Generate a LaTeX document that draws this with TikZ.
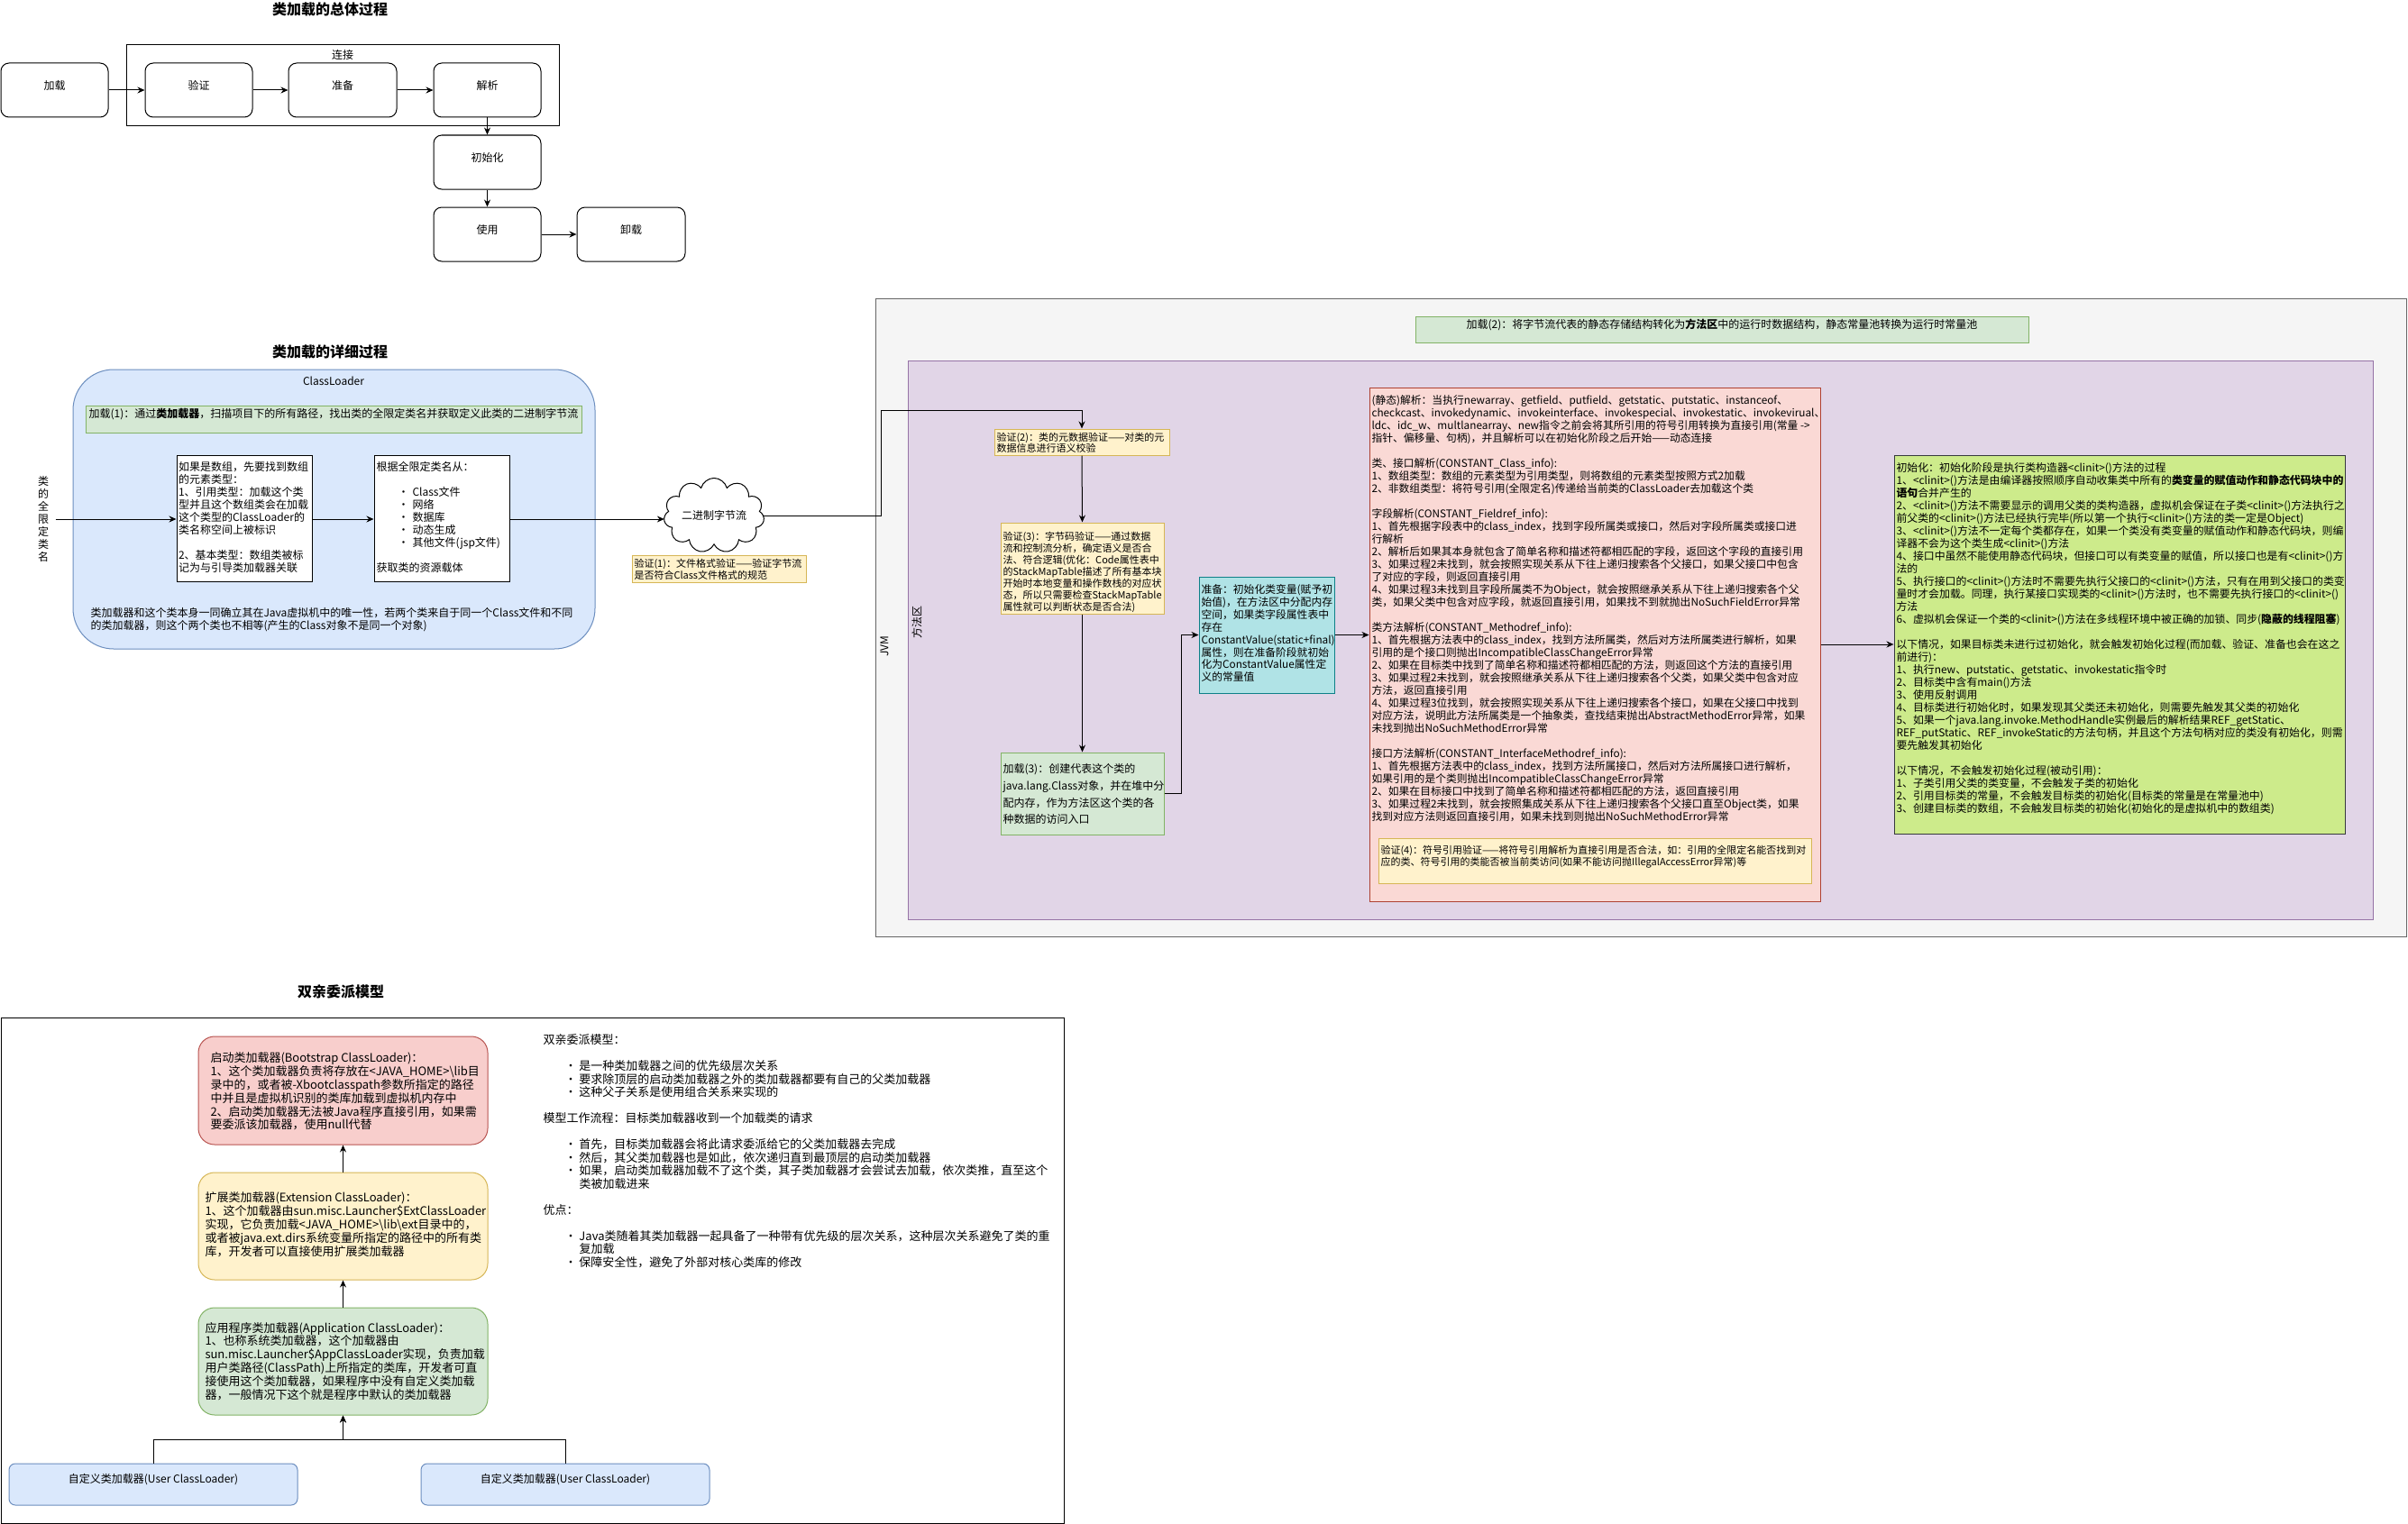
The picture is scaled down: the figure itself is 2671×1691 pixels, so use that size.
\documentclass[tikz,border=0pt]{standalone}
\usepackage{fontspec}
\setmainfont{Noto Sans CJK SC}
\usetikzlibrary{arrows.meta,shapes.symbols,fit}

\definecolor{clfill}{HTML}{DAE8FC}\definecolor{cldraw}{HTML}{6C8EBF}
\definecolor{gfill}{HTML}{D5E8D4}\definecolor{gdraw}{HTML}{82B366}
\definecolor{yfill}{HTML}{FFF2CC}\definecolor{ydraw}{HTML}{D6B656}
\definecolor{rfill}{HTML}{F8CECC}\definecolor{rdraw}{HTML}{B85450}
\definecolor{jvmfill}{HTML}{F5F5F5}\definecolor{jvmdraw}{HTML}{666666}
\definecolor{mafill}{HTML}{E1D5E7}\definecolor{madraw}{HTML}{9673A6}
\definecolor{pfill}{HTML}{FAD9D5}\definecolor{pdraw}{HTML}{AE4132}
\definecolor{cfill}{HTML}{B0E3E6}\definecolor{cdraw}{HTML}{0E8088}
\definecolor{lfill}{HTML}{CDEB8B}\definecolor{ldraw}{HTML}{36393D}

% bullet item and continuation indent for list-like text
\newcommand{\lstbullet}{\hspace*{24pt}\makebox[16pt][l]{•}}
\newcommand{\lstindent}{\hspace*{40pt}}

\tikzset{
  arr/.style={-{Stealth[length=8pt,width=7pt]}, line width=1pt},
  fitbox/.style={inner sep=0pt, line width=1pt},
  fs11/.style={font=\fontsize{11}{13}\selectfont},
  fs12/.style={font=\fontsize{12}{14}\selectfont},
  fs13/.style={font=\fontsize{13}{15}\selectfont},
  block/.style={inner sep=0pt, align=left, anchor=north west},
  heading/.style={font=\fontsize{16}{19}\selectfont\bfseries},
  stage/.style={fitbox, draw, rounded corners=9pt, fs12},
  note/.style={fitbox, draw=ydraw, fill=yfill},
  greenbox/.style={fitbox, draw=gdraw, fill=gfill},
  plainbox/.style={fitbox, draw, fill=white},
  loader/.style={fitbox, rounded corners=18pt},
  userbox/.style={fitbox, draw=cldraw, fill=clfill, rounded corners=7pt, fs12},
}

\begin{document}
\begin{tikzpicture}[x=1pt,y=-1pt,line width=1pt]
\useasboundingbox (0,0) rectangle (2671,1691);
\fill[white] (0,0) rectangle (2671,1691);

%% ---------------- overall process ----------------
\node[heading] (t1) at (366,10) {类加载的总体过程};
\node[fitbox, draw, fit={(140,50) (620,140)}] (link) {};
\node[fs12] (linklbl) at (380,61) {连接};
\node[stage, fit={(1,70) (120,130)}] (s1) {加载};
\node[stage, fit={(161,70) (280,130)}] (s2) {验证};
\node[stage, fit={(320,70) (440,130)}] (s3) {准备};
\node[stage, fit={(481,70) (600,130)}] (s4) {解析};
\node[stage, fit={(481,150) (600,210)}] (s5) {初始化};
\node[stage, fit={(481,230) (600,290)}] (s6) {使用};
\node[stage, fit={(640,230) (760,290)}] (s7) {卸载};
\draw[arr] (s1) -- (s2);
\draw[arr] (s2) -- (s3);
\draw[arr] (s3) -- (s4);
\draw[arr] (s4) -- (s5);
\draw[arr] (s5) -- (s6);
\draw[arr] (s6) -- (s7);

%% ---------------- detailed process: ClassLoader ----------------
\node[heading] (t2) at (366,390) {类加载的详细过程};
\node[fitbox, draw=cldraw, fill=clfill, rounded corners=45pt, fit={(81,410) (660,720)}] (cl) {};
\node[fs12] (cllbl) at (370,423) {ClassLoader};
\node[greenbox, fs12, fit={(95,450) (645,480)}] (load1) {加载(1)：通过\textbf{类加载器}，扫描项目下的所有路径，找出类的全限定类名并获取定义此类的二进制字节流};
\node[fs12, align=center, inner xsep=7pt, inner ysep=0pt] (fqn) at (48,576) {类\\的\\全\\限\\定\\类\\名};
\node[plainbox, fit={(196,505) (346,645)}] (arr1) {};
\node[block, fs12] (arr1t) at (197.5,512) {如果是数组，先要找到数组\\的元素类型：\\1、引用类型：加载这个类\\型并且这个数组类会在加载\\这个类型的ClassLoader的\\类名称空间上被标识\\[14pt]2、基本类型：数组类被标\\记为与引导类加载器关联};
\node[plainbox, fit={(415,505) (565,645)}] (src) {};
\node[block, fs12] (srct) at (417,512) {根据全限定类名从：\\[14pt]\lstbullet Class文件\\\lstbullet 网络\\\lstbullet 数据库\\\lstbullet 动态生成\\\lstbullet 其他文件(jsp文件)\\[14pt]获取类的资源载体};
\node[block, font=\fontsize{12}{13.5}\selectfont] (clnote) at (100,674) {类加载器和这个类本身一同确立其在Java虚拟机中的唯一性，若两个类来自于同一个Class文件和不同\\的类加载器，则这个两个类也不相等(产生的Class对象不是同一个对象)};
\node[cloud, cloud puffs=11, aspect=1.6, draw, fill=white, minimum width=109pt, minimum height=69pt, inner sep=0pt, fs12] (bytes) at (792,572) {二进制字节流};
\node[note, fit={(701,616) (894,646)}] (v1) {};
\node[block, fs11] (v1t) at (703,619.5) {验证(1)：文件格式验证——验证字节流\\是否符合Class文件格式的规范};
\draw[arr] (fqn.east) -- (arr1.west |- fqn.east);
\draw[arr] (arr1.east |- fqn.east) -- (src.west |- fqn.east);
\draw[arr] (src.east |- fqn.east) -- (bytes.west |- fqn.east);

%% ---------------- JVM ----------------
\node[fitbox, draw=jvmdraw, fill=jvmfill, fit={(971,331) (2669,1039)}] (jvm) {};
\node[fs12, rotate=90] (jvmlbl) at (981,717) {JVM};
\node[greenbox, fs12, fit={(1570,351) (2250,380)}] (load2) {加载(2)：将字节流代表的静态存储结构转化为\textbf{方法区}中的运行时数据结构，静态常量池转换为运行时常量池};
\node[fitbox, draw=madraw, fill=mafill, fit={(1007,400) (2632,1020)}] (ma) {};
\node[fs12, rotate=90] (malbl) at (1017,690) {方法区};

\node[note, fit={(1103,476) (1297,505)}] (v2) {};
\node[block, font=\fontsize{11}{12.5}\selectfont] (v2t) at (1105,479.5) {验证(2)：类的元数据验证——对类的元\\数据信息进行语义校验};
\node[note, fit={(1110,580) (1291,681)}] (v3) {};
\node[block, fs11] (v3t) at (1112,589.5) {验证(3)：字节码验证——通过数据\\流和控制流分析，确定语义是否合\\法、符合逻辑(优化：Code属性表中\\的StackMapTable描述了所有基本块\\开始时本地变量和操作数栈的对应状\\态，所以只需要检查StackMapTable\\属性就可以判断状态是否合法)};
\node[greenbox, fit={(1110,835) (1291,926)}] (l3) {};
\node[block, font=\fontsize{12}{18.7}\selectfont] (l3t) at (1112,847) {加载(3)：创建代表这个类的\\java.lang.Class对象，并在堆中分\\配内存，作为方法区这个类的各\\种数据的访问入口};
\node[fitbox, draw=cdraw, fill=cfill, fit={(1330,640) (1480,769)}] (prep) {};
\node[block, font=\fontsize{11.8}{13.9}\selectfont] (prept) at (1332,648) {准备：初始化类变量(赋予初\\始值)，在方法区中分配内存\\空间，如果类字段属性表中\\存在\\ConstantValue(static+final)\\属性，则在准备阶段就初始\\化为ConstantValue属性定\\义的常量值};

\node[fitbox, draw=pdraw, fill=pfill, fit={(1519,430) (2019,1000)}] (res) {};
\node[block, font=\fontsize{11.8}{14}\selectfont] (rest) at (1521,438) {(静态)解析：当执行newarray、getfield、putfield、getstatic、putstatic、instanceof、\\
checkcast、invokedynamic、invokeinterface、invokespecial、invokestatic、invokevirual、\\
ldc、idc\_w、multlanearray、new指令之前会将其所引用的符号引用转换为直接引用(常量 ->\\
指针、偏移量、句柄)，并且解析可以在初始化阶段之后开始——动态连接\\[14pt]
类、接口解析(CONSTANT\_Class\_info):\\
1、数组类型：数组的元素类型为引用类型，则将数组的元素类型按照方式2加载\\
2、非数组类型：将符号引用(全限定名)传递给当前类的ClassLoader去加载这个类\\[14pt]
字段解析(CONSTANT\_Fieldref\_info):\\
1、首先根据字段表中的class\_index，找到字段所属类或接口，然后对字段所属类或接口进\\
行解析\\
2、解析后如果其本身就包含了简单名称和描述符都相匹配的字段，返回这个字段的直接引用\\
3、如果过程2未找到，就会按照实现关系从下往上递归搜索各个父接口，如果父接口中包含\\
了对应的字段，则返回直接引用\\
4、如果过程3未找到且字段所属类不为Object，就会按照继承关系从下往上递归搜索各个父\\
类，如果父类中包含对应字段，就返回直接引用，如果找不到就抛出NoSuchFieldError异常\\[14pt]
类方法解析(CONSTANT\_Methodref\_info):\\
1、首先根据方法表中的class\_index，找到方法所属类，然后对方法所属类进行解析，如果\\
引用的是个接口则抛出IncompatibleClassChangeError异常\\
2、如果在目标类中找到了简单名称和描述符都相匹配的方法，则返回这个方法的直接引用\\
3、如果过程2未找到，就会按照继承关系从下往上递归搜索各个父类，如果父类中包含对应\\
方法，返回直接引用\\
4、如果过程3位找到，就会按照实现关系从下往上递归搜索各个接口，如果在父接口中找到\\
对应方法，说明此方法所属类是一个抽象类，查找结束抛出AbstractMethodError异常，如果\\
未找到抛出NoSuchMethodError异常\\[14pt]
接口方法解析(CONSTANT\_InterfaceMethodref\_info):\\
1、首先根据方法表中的class\_index，找到方法所属接口，然后对方法所属接口进行解析，\\
如果引用的是个类则抛出IncompatibleClassChangeError异常\\
2、如果在目标接口中找到了简单名称和描述符都相匹配的方法，返回直接引用\\
3、如果过程2未找到，就会按照集成关系从下往上递归搜索各个父接口直至Object类，如果\\
找到对应方法则返回直接引用，如果未找到则抛出NoSuchMethodError异常};
\node[note, fit={(1529,930) (2009,980)}] (v4) {};
\node[block, fs11] (v4t) at (1531,937.5) {验证(4)：符号引用验证——将符号引用解析为直接引用是否合法，如：引用的全限定名能否找到对\\应的类、符号引用的类能否被当前类访问(如果不能访问抛IllegalAccessError异常)等};

\node[fitbox, draw=ldraw, fill=lfill, fit={(2101,505) (2601,925)}] (init) {};
\node[block, font=\fontsize{11.9}{14}\selectfont] (initt) at (2103,513) {初始化：初始化阶段是执行类构造器<clinit>()方法的过程\\
1、<clinit>()方法是由编译器按照顺序自动收集类中所有的\textbf{类变量的赋值动作和静态代码块中的}\\
\textbf{语句}合并产生的\\
2、<clinit>()方法不需要显示的调用父类的类构造器，虚拟机会保证在子类<clinit>()方法执行之\\
前父类的<clinit>()方法已经执行完毕(所以第一个执行<clinit>()方法的类一定是Object)\\
3、<clinit>()方法不一定每个类都存在，如果一个类没有类变量的赋值动作和静态代码块，则编\\
译器不会为这个类生成<clinit>()方法\\
4、接口中虽然不能使用静态代码块，但接口可以有类变量的赋值，所以接口也是有<clinit>()方\\
法的\\
5、执行接口的<clinit>()方法时不需要先执行父接口的<clinit>()方法，只有在用到父接口的类变\\
量时才会加载。同理，执行某接口实现类的<clinit>()方法时，也不需要先执行接口的<clinit>()\\
方法\\
6、虚拟机会保证一个类的<clinit>()方法在多线程环境中被正确的加锁、同步(\textbf{隐蔽的线程阻塞})\\[14pt]
以下情况，如果目标类未进行过初始化，就会触发初始化过程(而加载、验证、准备也会在这之\\
前进行)：\\
1、执行new、putstatic、getstatic、invokestatic指令时\\
2、目标类中含有main()方法\\
3、使用反射调用\\
4、目标类进行初始化时，如果发现其父类还未初始化，则需要先触发其父类的初始化\\
5、如果一个java.lang.invoke.MethodHandle实例最后的解析结果REF\_getStatic、\\
REF\_putStatic、REF\_invokeStatic的方法句柄，并且这个方法句柄对应的类没有初始化，则需\\
要先触发其初始化\\[14pt]
以下情况，不会触发初始化过程(被动引用)：\\
1、子类引用父类的类变量，不会触发子类的初始化\\
2、引用目标类的常量，不会触发目标类的初始化(目标类的常量是在常量池中)\\
3、创建目标类的数组，不会触发目标类的初始化(初始化的是虚拟机中的数组类)};

% connectors through the JVM
\draw[arr] (bytes.east) -| (977,455) -| (v2.north);
\draw[arr] (v2.south) -- (v3.north);
\draw[arr] (v3.south) -- (l3.north);
\draw[arr] (l3.east) -- ++(19,0) |- (prep.west);
\draw[arr] (prep.east) -- (prep.east -| res.west);
\draw[arr] (res.east |- init.west) -- (init.west);

%% ---------------- parent delegation model ----------------
\node[heading] (t3) at (378,1100) {双亲委派模型};
\node[fitbox, draw, fit={(1,1129) (1180,1690)}] (pd) {};
\node[loader, draw=rdraw, fill=rfill, fit={(220,1150) (541,1270)}] (boot) {};
\node[block, font=\fontsize{13}{14.8}\selectfont] (boott) at (233,1167.5) {启动类加载器(Bootstrap ClassLoader)：\\1、这个类加载器负责将存放在<JAVA\_HOME>\textbackslash lib目\\录中的，或者被-Xbootclasspath参数所指定的路径\\中并且是虚拟机识别的类库加载到虚拟机内存中\\2、启动类加载器无法被Java程序直接引用，如果需\\要委派该加载器，使用null代替};
\node[loader, draw=ydraw, fill=yfill, fit={(220,1301) (541,1420)}] (ext) {};
\node[block, font=\fontsize{13}{14.8}\selectfont] (extt) at (227,1322.5) {扩展类加载器(Extension ClassLoader)：\\1、这个加载器由sun.misc.Launcher\$ExtClassLoader\\实现，它负责加载<JAVA\_HOME>\textbackslash lib\textbackslash ext目录中的，\\或者被java.ext.dirs系统变量所指定的路径中的所有类\\库，开发者可以直接使用扩展类加载器};
\node[loader, draw=gdraw, fill=gfill, fit={(220,1451) (541,1570)}] (app) {};
\node[block, font=\fontsize{13}{14.8}\selectfont] (appt) at (227,1466.5) {应用程序类加载器(Application ClassLoader)：\\1、也称系统类加载器，这个加载器由\\sun.misc.Launcher\$AppClassLoader实现，负责加载\\用户类路径(ClassPath)上所指定的类库，开发者可直\\接使用这个类加载器，如果程序中没有自定义类加载\\器，一般情况下这个就是程序中默认的类加载器};
\node[userbox, fit={(10,1624) (330,1670)}] (u1) {自定义类加载器(User ClassLoader)};
\node[userbox, fit={(467,1624) (787,1670)}] (u2) {自定义类加载器(User ClassLoader)};
\draw[arr] (app.north) -- (ext.south);
\draw[arr] (ext.north) -- (boot.south);
\draw[arr] (u1.north) |- (app.south |- 0,1597) -- (app.south);
\draw[arr] (u2.north) |- (app.south |- 0,1597) -- (app.south);

\node[block, font=\fontsize{13}{14.5}\selectfont] (pdt) at (602,1147.5) {双亲委派模型：\\[14.5pt]
\lstbullet 是一种类加载器之间的优先级层次关系\\
\lstbullet 要求除顶层的启动类加载器之外的类加载器都要有自己的父类加载器\\
\lstbullet 这种父子关系是使用组合关系来实现的\\[14.5pt]
模型工作流程：目标类加载器收到一个加载类的请求\\[14.5pt]
\lstbullet 首先，目标类加载器会将此请求委派给它的父类加载器去完成\\
\lstbullet 然后，其父类加载器也是如此，依次递归直到最顶层的启动类加载器\\
\lstbullet 如果，启动类加载器加载不了这个类，其子类加载器才会尝试去加载，依次类推，直至这个\\
\lstindent 类被加载进来\\[14.5pt]
优点：\\[14.5pt]
\lstbullet Java类随着其类加载器一起具备了一种带有优先级的层次关系，这种层次关系避免了类的重\\
\lstindent 复加载\\
\lstbullet 保障安全性，避免了外部对核心类库的修改};
\end{tikzpicture}
\end{document}
